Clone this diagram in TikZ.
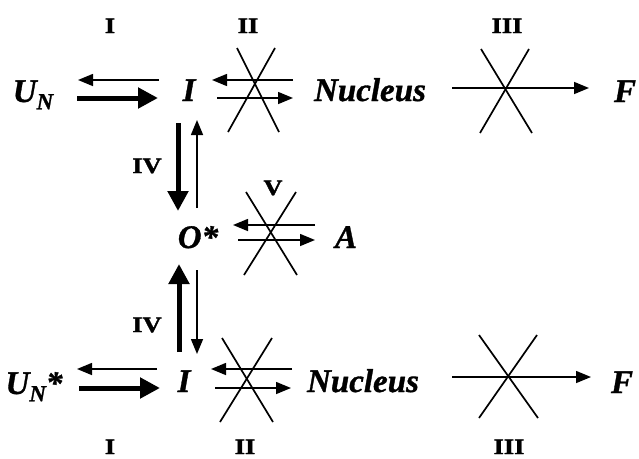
\documentclass[tikz,border=0pt]{standalone}
\usepackage{fontspec}
\setmainfont{Liberation Serif}
\newfontfamily\spfont{Liberation Serif Bold Italic}[FakeBold=1]
\newfontfamily\romfont{Liberation Serif Bold}[FakeBold=1.5]
\usetikzlibrary{arrows.meta}
\tikzset{
  species/.style={inner sep=0pt, anchor=base, font=\fontsize{33}{33}\spfont},
  roman/.style={inner sep=0pt, anchor=base, font=\fontsize{22}{22}\romfont},
  thin/.style={line width=1.5pt, -{Triangle[length=15pt,width=12pt]}},
  thick/.style={line width=5pt, -{Triangle[length=20pt,width=20pt]}},
  cross/.style={line width=1.7pt},
}
\newcommand{\subN}{\raisebox{-0.22em}{\fontsize{23}{23}\selectfont N}}
\newcommand{\rom}[1]{\scalebox{1.2}[1]{#1}}
\begin{document}
\begin{tikzpicture}[x=1pt,y=-1pt]
\useasboundingbox (0,0) rectangle (639,458);
% top row
\node[species] (un) at (33,102) {U\subN};
\node[species] (i1) at (189,101) {I};
\node[species] (n1) at (370,101) {Nucleus};
\node[species] (f1) at (625,102) {F};
% middle
\node[species] (o) at (198,248) {O*};
\node[species] (a) at (346,248) {A};
% bottom row
\node[species] (uns) at (34,394) {U\subN*};
\node[species] (i2) at (184,392) {I};
\node[species] (n2) at (363,392) {Nucleus};
\node[species] (f2) at (622,393) {F};
% roman labels
\node[roman] (l1) at (110,33) {\rom{I}};
\node[roman] (l2) at (248,33) {\rom{II}};
\node[roman] (l3) at (507,33) {\rom{III}};
\node[roman] (l4) at (147,173) {\rom{IV}};
\node[roman] (l5) at (273,195) {\rom{V}};
\node[roman] (l6) at (147,332) {\rom{IV}};
\node[roman] (l7) at (110,454) {\rom{I}};
\node[roman] (l8) at (245,454) {\rom{II}};
\node[roman] (l9) at (509,454) {\rom{III}};
% arrow endpoints
\coordinate (a1s) at (159,80);  \coordinate (a1e) at (78,80);
\coordinate (a2s) at (77,98);   \coordinate (a2e) at (158,98);
\coordinate (a3s) at (293,80);  \coordinate (a3e) at (212,80);
\coordinate (a4s) at (217,98);  \coordinate (a4e) at (293,98);
\coordinate (a5s) at (452,88);  \coordinate (a5e) at (589,88);
\coordinate (v1s) at (178,123); \coordinate (v1e) at (178,211);
\coordinate (v2s) at (197,208); \coordinate (v2e) at (197,120);
\coordinate (m1s) at (315,225); \coordinate (m1e) at (233,225);
\coordinate (m2s) at (238,240); \coordinate (m2e) at (315,240);
\coordinate (v3s) at (179,352); \coordinate (v3e) at (179,264);
\coordinate (v4s) at (197,270); \coordinate (v4e) at (197,354);
\coordinate (b1s) at (157,369); \coordinate (b1e) at (77,369);
\coordinate (b2s) at (79,388);  \coordinate (b2e) at (160,388);
\coordinate (b3s) at (292,369); \coordinate (b3e) at (211,369);
\coordinate (b4s) at (215,388); \coordinate (b4e) at (291,388);
\coordinate (b5s) at (452,377); \coordinate (b5e) at (591,377);
% arrows
\draw[thin] (a1s) -- (a1e);
\draw[thick] (a2s) -- (a2e);
\draw[thin] (a3s) -- (a3e);
\draw[thin] (a4s) -- (a4e);
\draw[thin] (a5s) -- (a5e);
\draw[thick] (v1s) -- (v1e);
\draw[thin] (v2s) -- (v2e);
\draw[thin] (m1s) -- (m1e);
\draw[thin] (m2s) -- (m2e);
\draw[thick] (v3s) -- (v3e);
\draw[thin] (v4s) -- (v4e);
\draw[thin] (b1s) -- (b1e);
\draw[thick] (b2s) -- (b2e);
\draw[thin] (b3s) -- (b3e);
\draw[thin] (b4s) -- (b4e);
\draw[thin] (b5s) -- (b5e);
% crosses
\draw[cross] (228,132) -- (275,48);
\draw[cross] (237,48) -- (279,132);
\draw[cross] (480,133) -- (529,49);
\draw[cross] (481,49) -- (532,133);
\draw[cross] (246,192) -- (297,275);
\draw[cross] (296,192) -- (244,275);
\draw[cross] (220,422) -- (272,338);
\draw[cross] (222,338) -- (273,422);
\draw[cross] (479,418) -- (537,335);
\draw[cross] (479,335) -- (538,418);
\end{tikzpicture}
\end{document}
